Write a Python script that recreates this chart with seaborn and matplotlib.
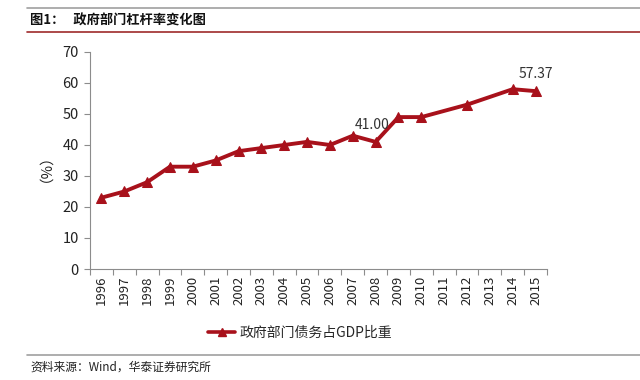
import numpy as np
import pandas as pd
import matplotlib
matplotlib.use("Agg")
import matplotlib.pyplot as plt
from matplotlib.lines import Line2D
import seaborn as sns

years = list(range(1996, 2016))
# 2011 and 2013 have no point in the source chart; the line just skips them
debt_ratio = [23, 25, 28, 33, 33, 35, 38, 39, 40, 41,
              40, 43, 41, 49, 49, np.nan, 53, np.nan, 58, 57.37]
labelled = {2008: "41.00", 2015: "57.37"}
yticks = [0, 10, 20, 30, 40, 50, 60, 70]

df = pd.DataFrame({"year": years, "ratio": debt_ratio}).dropna()

sns.set_style("white")
plt.rcParams["font.family"] = ["Noto Sans CJK SC", "DejaVu Sans"]

red = "#A8111B"
grey = "#8C8C8C"

fig = plt.figure(figsize=(6.4, 3.8), dpi=100)
ax = fig.add_axes([0.1406, 0.2921, 0.7141, 0.5711])

sns.lineplot(data=df, x="year", y="ratio", ax=ax, color=red, linewidth=2.8,
             marker="^", markersize=7, markeredgecolor=red,
             markerfacecolor=red, legend=False)

for yr, txt in labelled.items():
    val = df.loc[df["year"] == yr, "ratio"].iloc[0]
    dx = -0.15 if yr == 2008 else 0
    ax.text(yr + dx, val + 3.2, txt, ha="center", va="bottom",
            fontsize=10, color="#333333")

ax.set_xlim(years[0] - 0.5, years[-1] + 0.5)
ax.set_ylim(0, 70)
ax.set_yticks(yticks)
ax.set_xticks(years)
ax.set_xticklabels([str(y) for y in years], rotation=90, fontsize=9.5,
                   color="#222222")
ax.set_xticks(np.arange(years[0] - 0.5, years[-1] + 1.0, 1.0), minor=True)
ax.tick_params(axis="x", which="major", length=0, pad=5)
ax.tick_params(axis="x", which="minor", length=4, color=grey, width=0.8,
               direction="out", bottom=True)
ax.tick_params(axis="y", length=4, color=grey, width=0.8, direction="out",
               labelsize=10.5, labelcolor="#222222", left=True, pad=4)
ax.set_xlabel("")
ax.set_ylabel("（%）", fontsize=10.5, color="#222222", labelpad=12)

for side in ["top", "right"]:
    ax.spines[side].set_visible(False)
for side in ["left", "bottom"]:
    ax.spines[side].set_color(grey)
    ax.spines[side].set_linewidth(0.8)

handle = Line2D([], [], color=red, linewidth=2.6, marker="^", markersize=6,
                markerfacecolor=red, markeredgecolor=red)
fig.legend([handle], ["政府部门债务占GDP比重"], loc="center",
           bbox_to_anchor=(300 / 640, 1 - 333 / 380), frameon=False,
           fontsize=10, handlelength=2.0, handletextpad=0.3)

# report frame: rules and captions
fig.add_artist(Line2D([27 / 640, 1], [1 - 8 / 380] * 2, color="#A0A0A0",
                      linewidth=1.2))
fig.add_artist(Line2D([27 / 640, 1], [1 - 32 / 380] * 2, color="#9E2A2B",
                      linewidth=1.2))
fig.add_artist(Line2D([27 / 640, 1], [1 - 355 / 380] * 2, color="#A0A0A0",
                      linewidth=1.2))
fig.text(30 / 640, 1 - 21 / 380, "图1：   政府部门杠杆率变化图", fontsize=9.5,
         fontweight="bold", va="center", ha="left", color="#111111")
fig.text(30 / 640, 1 - 367 / 380, "资料来源：Wind，华泰证券研究所", fontsize=8.5,
         va="center", ha="left", color="#222222", style="italic")

fig.savefig("out.png", dpi=100)
